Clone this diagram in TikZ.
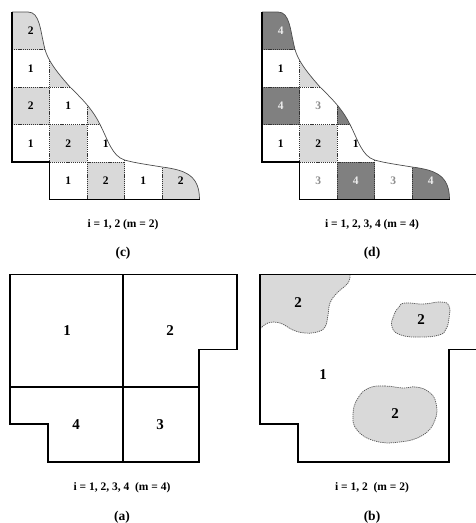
\documentclass[tikz,border=0pt]{standalone}
\usepackage{fontspec}
\setmainfont{Liberation Serif}
\begin{document}
\begin{tikzpicture}[x=1pt,y=-1pt,
  outline/.style={line width=1.6pt, line join=miter},
  inner/.style={line width=1.3pt},
  gridline/.style={line width=0.7pt, dash pattern=on 1.2pt off 0.9pt, draw=black!80},
  curveline/.style={line width=0.7pt, draw=black!70},
  blobline/.style={line width=0.75pt, dash pattern=on 1.2pt off 0.9pt, draw=black!65},
  lgray/.style={fill=black!15},
  dgray/.style={fill=black!50},
  num/.style={font=\fontsize{11.5}{11.5}\selectfont\bfseries, inner sep=0pt},
  bignum/.style={font=\fontsize{15}{15}\selectfont\bfseries, inner sep=0pt},
  capt/.style={font=\fontsize{11.5}{12}\selectfont\bfseries, inner sep=0pt},
  tag/.style={font=\fontsize{13.5}{14}\selectfont\bfseries, inner sep=0pt},
  wnum/.style={num, text=white!92!black},
  gnum/.style={num, text=black!45}]
\useasboundingbox (0,0) rectangle (476,523);
\clip (0,0) rectangle (476,523);
\def\shapepath{(12,12) -- (28,12) .. controls (40,12) and (40,30) .. (45,49.5)
  .. controls (48,60) and (55,70) .. (70,87)
  .. controls (80,97) and (92,108) .. (100,124.5)
  .. controls (108,140) and (112,156) .. (124.5,160)
  .. controls (135,163) and (150,165) .. (162,167)
  .. controls (185,170) and (199.5,175) .. (199.5,199.5)
  -- (49.5,199.5) -- (49.5,162) -- (12,162) -- cycle}
\def\curvepath{(12,12) -- (28,12) .. controls (40,12) and (40,30) .. (45,49.5)
  .. controls (48,60) and (55,70) .. (70,87)
  .. controls (80,97) and (92,108) .. (100,124.5)
  .. controls (108,140) and (112,156) .. (124.5,160)
  .. controls (135,163) and (150,165) .. (162,167)
  .. controls (185,170) and (199.5,175) .. (199.5,199.5)}
\def\gridlines{%
  \draw[gridline] (12,49.5) -- (210,49.5) (12,87) -- (210,87) (12,124.5) -- (210,124.5) (49.5,162) -- (124.5,162);
  \draw[gridline] (49.5,0) -- (49.5,162) (87,0) -- (87,199.5) (124.5,0) -- (124.5,199.5) (162,0) -- (162,199.5);}
% ---------- (c)
\begin{scope}
  \clip \shapepath;
  \fill[lgray] (12,0) rectangle (49.5,49.5);
  \fill[lgray] (49.5,49.5) rectangle (87,87);
  \fill[lgray] (12,87) rectangle (49.5,124.5);
  \fill[lgray] (87,87) rectangle (124.5,124.5);
  \fill[lgray] (49.5,124.5) rectangle (87,162);
  \fill[lgray] (87,162) rectangle (124.5,199.5);
  \fill[lgray] (162,150) rectangle (210,199.5);
  \gridlines
\end{scope}
\draw[curveline] \curvepath;
\draw[outline] (12,12) -- (12,162) -- (49.5,162) -- (49.5,199.5) -- (199.5,199.5);
\node[num] (c00) at (30.75,30.75) {2};
\node[num] (c10) at (30.75,68.25) {1};
\node[num] (c20) at (30.75,105.75) {2};
\node[num] (c21) at (68.25,105.75) {1};
\node[num] (c30) at (30.75,143.25) {1};
\node[num] (c31) at (68.25,143.25) {2};
\node[num] (c32) at (105.75,143.25) {1};
\node[num] (c41) at (68.25,180.75) {1};
\node[num] (c42) at (105.75,180.75) {2};
\node[num] (c43) at (143.25,180.75) {1};
\node[num] (c44) at (180.75,180.75) {2};
\node[capt] (ccap) at (123,225) {i = 1, 2 (m = 2)};
\node[tag] (ctag) at (123,253) {(c)};
% ---------- (d)
\begin{scope}[xshift=250pt]
  \begin{scope}
    \clip \shapepath;
    \fill[dgray] (12,0) rectangle (49.5,49.5);
    \fill[lgray] (49.5,49.5) rectangle (87,87);
    \fill[dgray] (12,87) rectangle (49.5,124.5);
    \fill[dgray] (87,87) rectangle (124.5,124.5);
    \fill[lgray] (49.5,124.5) rectangle (87,162);
    \fill[dgray] (87,162) rectangle (124.5,199.5);
    \fill[dgray] (162,150) rectangle (210,199.5);
    \gridlines
  \end{scope}
  \draw[curveline] \curvepath;
  \draw[outline] (12,12) -- (12,162) -- (49.5,162) -- (49.5,199.5) -- (199.5,199.5);
  \node[wnum] (d00) at (30.75,30.75) {4};
  \node[num] (d10) at (30.75,68.25) {1};
  \node[wnum] (d20) at (30.75,105.75) {4};
  \node[gnum] (d21) at (68.25,105.75) {3};
  \node[num] (d30) at (30.75,143.25) {1};
  \node[num] (d31) at (68.25,143.25) {2};
  \node[num] (d32) at (105.75,143.25) {1};
  \node[gnum] (d41) at (68.25,180.75) {3};
  \node[wnum] (d42) at (105.75,180.75) {4};
  \node[gnum] (d43) at (143.25,180.75) {3};
  \node[wnum] (d44) at (180.75,180.75) {4};
  \node[capt] (dcap) at (122,225) {i = 1, 2, 3, 4 (m = 4)};
  \node[tag] (dtag) at (122,253) {(d)};
\end{scope}
% ---------- (a)
\draw[outline] (10,274.5) -- (237,274.5) -- (237,349.5) -- (199,349.5) -- (199,462) -- (48,462) -- (48,424) -- (10,424) -- cycle;
\draw[inner] (123,274.5) -- (123,462);
\draw[inner] (10,387) -- (199,387);
\node[bignum] (a1) at (67,331) {1};
\node[bignum] (a2) at (170,331) {2};
\node[bignum] (a4) at (76,425) {4};
\node[bignum] (a3) at (160,425) {3};
\node[capt] (acap) at (122,488) {i = 1, 2, 3, 4\ \ (m = 4)};
\node[tag] (atag) at (122,517) {(a)};
% ---------- (b)
\fill[lgray] (260,274.5) -- plot[smooth, tension=0.7] coordinates {(350,274.5) (348,283) (337,293) (330,303) (328,315) (325,327) (317,332) (305,333) (293,330) (280,323) (268,323) (260,329)} -- cycle;
\draw[blobline] plot[smooth, tension=0.7] coordinates {(350,274.5) (348,283) (337,293) (330,303) (328,315) (325,327) (317,332) (305,333) (293,330) (280,323) (268,323) (260,329)};
\filldraw[lgray, blobline] plot[smooth cycle, tension=0.8] coordinates {(405,303) (423,304) (441,302) (449,306) (449,318) (446,329) (439,335) (420,337) (401,335) (392,327) (394,315) (399,307)};
\filldraw[lgray, blobline] plot[smooth cycle, tension=0.75] coordinates {(369,388) (385,386) (403,388) (416,387) (429,392) (436,403) (435,420) (423,435) (400,442) (375,441) (357,430) (353,414) (358,398)};
\draw[outline] (260,274.5) -- (490,274.5) -- (490,349.5) -- (449,349.5) -- (449,462) -- (298,462) -- (298,424) -- (260,424) -- cycle;
\node[bignum] (b2a) at (298,303) {2};
\node[bignum] (b2b) at (421,320) {2};
\node[bignum] (b2c) at (395,414) {2};
\node[bignum] (b1) at (323,375) {1};
\node[capt] (bcap) at (372,488) {i = 1, 2\ \ (m = 2)};
\node[tag] (btag) at (372,517) {(b)};
\end{tikzpicture}
\end{document}
